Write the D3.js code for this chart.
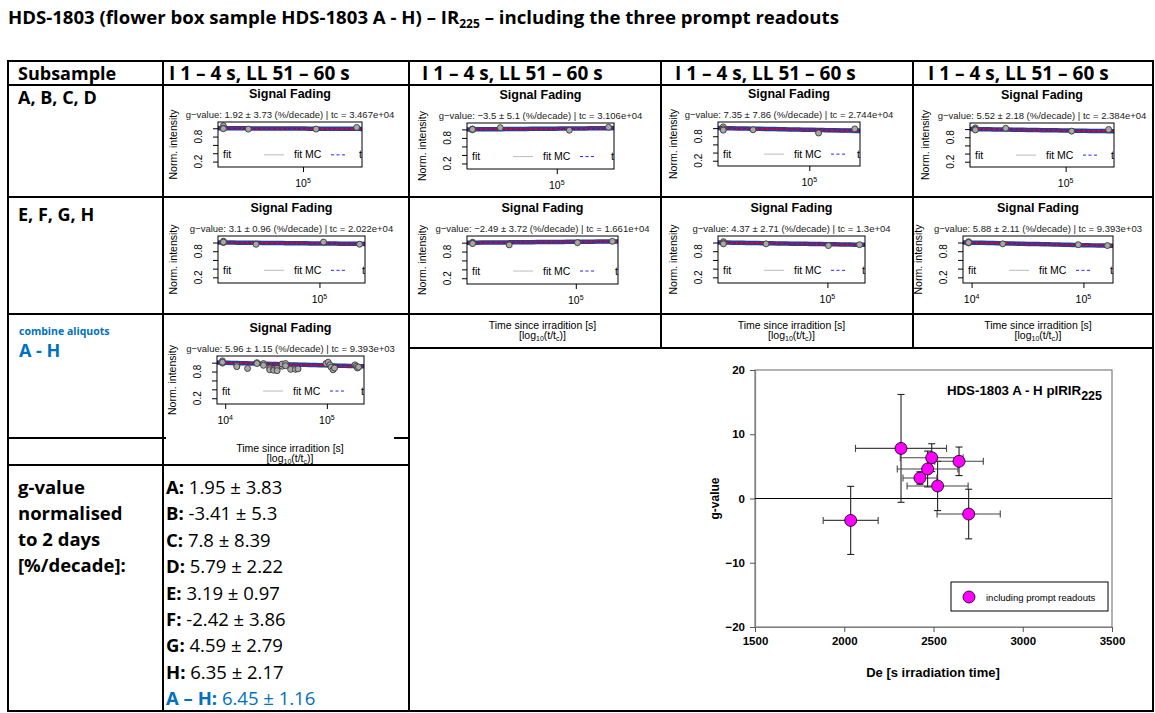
<!DOCTYPE html>
<meta charset="utf-8">
<style>
body { margin: 0; background: #fff; }
svg { display: block; }
.tbl { font-family: "Open Sans", Lato, sans-serif; }
.r { font-family: "Liberation Sans", Arial, sans-serif; }
</style>
<svg width="1155" height="713"></svg>
<script src="https://cdn.jsdelivr.net/npm/d3@7/dist/d3.min.js"></script>
<script>

// ---- data ----
var titleParts = ["HDS-1803 (flower box sample HDS-1803 A - H) \u2013 IR", "225", " \u2013 including the three prompt readouts"];
var colHeader = "I 1 \u2013 4 s, LL 51 \u2013 60 s";
var rowLabels = ["A, B, C, D", "E, F, G, H"];
var gLabelLines = ["g-value", "normalised", "to 2 days", "[%/decade]:"];

var aliquots = ["A", "B", "C", "D", "E", "F", "G", "H"];
var gNorm    = [1.95, -3.41, 7.8, 5.79, 3.19, -2.42, 4.59, 6.35];
var gNormErr = [3.83, 5.3, 8.39, 2.22, 0.97, 3.86, 2.79, 2.17];
var gAll = [6.45, 1.16];

// fitted values printed in the fading plots
var gFit    = [1.92, -3.5, 7.35, 5.52, 3.1, -2.49, 4.37, 5.88];
var gFitErr = [3.73, 5.1, 7.86, 2.18, 0.96, 3.72, 2.71, 2.11];
var tcLabel = ["3.467e+04", "3.106e+04", "2.744e+04", "2.384e+04", "2.022e+04", "1.661e+04", "1.3e+04", "9.393e+03"];

// time since irradiation [s] and normalised intensity (three prompt readouts first)
var fadeTimes = [
  [3.467e4, 3.467e4, 3.467e4, 4.83e4, 1.19e5, 2.04e5],
  [3.106e4, 3.106e4, 3.106e4, 4.57e4, 1.19e5, 2.05e5],
  [2.744e4, 2.744e4, 2.744e4, 4.29e4, 1.15e5, 1.98e5],
  [2.384e4, 2.384e4, 2.384e4, 3.86e4, 1.10e5, 1.98e5],
  [2.022e4, 2.022e4, 2.022e4, 3.48e4, 1.07e5, 1.95e5],
  [1.661e4, 1.661e4, 1.661e4, 3.14e4, 1.03e5, 1.89e5],
  [1.3e4, 1.3e4, 1.3e4, 3.0e4, 1.02e5, 1.88e5],
  [9.393e3, 9.393e3, 9.393e3, 1.9e4, 9.0e4, 1.64e5]
];
var fadeInt = [
  [1.06, 1.0, 0.99, 0.98, 0.98, 1.02],
  [1.01, 0.99, 1.0, 1.04, 0.98, 1.05],
  [1.03, 0.98, 0.95, 0.96, 0.88, 0.98],
  [1.03, 1.0, 0.98, 1.02, 0.95, 0.99],
  [1.03, 1.0, 1.01, 0.96, 1.01, 0.96],
  [1.01, 0.99, 0.98, 0.95, 1.0, 1.03],
  [1.02, 0.99, 0.97, 0.97, 0.93, 0.95],
  [1.02, 0.99, 1.0, 0.97, 0.95, 0.93]
];

// combined aliquots A - H
var allFit = [5.96, 1.15];
var allTc = "9.393e+03";
var allTimes = [9.39e3, 9.39e3, 9.39e3, 1.30e4, 1.30e4, 1.66e4, 2.05e4, 2.05e4, 2.38e4, 2.38e4,
  2.74e4, 2.74e4, 3.0e4, 3.0e4, 3.24e4, 3.24e4, 3.63e4, 3.63e4, 3.92e4, 3.92e4,
  4.4e4, 4.9e4, 5.2e4, 9.8e4, 1.03e5, 1.07e5, 1.1e5, 1.15e5, 1.19e5, 1.89e5, 1.95e5, 2.0e5, 2.05e5];
var allInt = [1.04, 0.99, 1.01, 0.94, 0.91, 0.87, 1.0, 0.98, 0.98, 0.94,
  0.88, 0.84, 0.86, 0.83, 0.87, 0.82, 0.92, 0.97, 0.98, 0.93,
  0.85, 0.85, 0.86, 0.98, 1.01, 0.95, 0.9, 0.84, 0.88, 0.95, 0.92, 0.88, 0.90];

// De [s irradiation time] for the scatter plot, order A - H
var de    = [2523, 2036, 2318, 2643, 2424, 2697, 2467, 2490];
var deErr = [171, 154, 255, 136, 95, 177, 170, 176];

var blue = "#0070c0";
var svg = d3.select("svg");

// ---- title ----
var title = svg.append("text").attr("class", "tbl").attr("x", 8).attr("y", 24)
    .style("font-weight", "bold").style("font-size", "18.6px");
title.append("tspan").text(titleParts[0]);
title.append("tspan").attr("dy", 4).style("font-size", "12px").text(titleParts[1]);
title.append("tspan").attr("dy", -4).text(titleParts[2]);

// ---- table texts ----
var headX = [169, 422, 675, 928];

svg.append("text").attr("class", "tbl").attr("x", 18).attr("y", 80)
    .style("font-weight", "bold").style("font-size", "18px").text("Subsample");
headX.forEach(function(x) {
  svg.append("text").attr("class", "tbl").attr("x", x).attr("y", 80)
      .style("font-weight", "bold").style("font-size", "19px").text(colHeader);
});
rowLabels.forEach(function(t, i) {
  svg.append("text").attr("class", "tbl").attr("x", 18).attr("y", [104, 221][i])
      .style("font-weight", "bold").style("font-size", "18px").text(t);
});
svg.append("text").attr("class", "tbl").attr("x", 19).attr("y", 335)
    .style("font-weight", "bold").style("font-size", "10.5px").style("fill", blue).text("combine aliquots");
svg.append("text").attr("class", "tbl").attr("x", 19).attr("y", 357)
    .style("font-weight", "bold").style("font-size", "18px").style("fill", blue).text("A - H");

gLabelLines.forEach(function(t, i) {
  svg.append("text").attr("class", "tbl").attr("x", 18).attr("y", 494 + i * 26)
      .style("font-weight", "bold").style("font-size", "18.5px").text(t);
});

var vals = aliquots.map(function(a, i) { return [a + ": ", gNorm[i] + " \u00b1 " + gNormErr[i], "#000"]; });
vals.push(["A \u2013 H: ", gAll[0] + " \u00b1 " + gAll[1], blue]);
vals.forEach(function(v, i) {
  var t = svg.append("text").attr("class", "tbl").attr("x", 166).attr("y", 494 + i * 26.4)
      .style("font-size", "18.5px").style("fill", v[2]);
  t.append("tspan").style("font-weight", "bold").text(v[0]);
  t.append("tspan").text(v[1]);
});

// ---- small fading plots ----
var fadeBoxes = [
  [218, 362, 122, 167], [467, 614, 123, 169], [718, 860, 122, 166], [970, 1114, 123, 167],
  [218, 365, 236, 283], [467, 618, 236, 284], [718, 865, 236, 283], [963, 1113, 236, 283]
];

function supText(sel, base, sup) {
  sel.append("tspan").text(base);
  sel.append("tspan").attr("dy", -4).style("font-size", "7px").text(sup);
}

function timeLabel(cx, yb) {
  svg.append("text").attr("class", "r").attr("x", cx).attr("y", yb).attr("text-anchor", "middle")
      .style("font-size", "10.5px").text("Time since irradition [s]");
  var t = svg.append("text").attr("class", "r").attr("x", cx).attr("y", yb + 10).attr("text-anchor", "middle")
      .style("font-size", "10.5px");
  t.append("tspan").text("[log");
  t.append("tspan").attr("dy", 2).style("font-size", "7px").text("10");
  t.append("tspan").attr("dy", -2).text("(t/t");
  t.append("tspan").attr("dy", 2).style("font-size", "7px").text("c");
  t.append("tspan").attr("dy", -2).text(")]");
}

var clipN = 0;
function fadePlot(b, times, ints, gv, ge, tcl, ticks) {
  var x0 = b[0], x1 = b[1], y0 = b[2], y1 = b[3], cx = (x0 + x1) / 2;
  var g = svg.append("g").attr("class", "r");
  var lo = Math.log10(d3.min(times)), hi = Math.log10(d3.max(times)), pad = (hi - lo) * 0.04;
  var x = d3.scaleLog().domain([Math.pow(10, lo - pad), Math.pow(10, hi + pad)]).range([x0, x1]);
  var y = d3.scaleLinear().domain([0.07, 1.15]).range([y1, y0]);
  var tc = +tcl;

  g.append("text").attr("x", cx).attr("y", y0 - 24).attr("text-anchor", "middle")
      .style("font-weight", "bold").style("font-size", "12.5px").text("Signal Fading");
  g.append("text").attr("x", cx).attr("y", y0 - 4).attr("text-anchor", "middle")
      .style("font-size", "9.5px").style("fill", "#222")
      .text("g\u2212value: " + String(gv).replace("-", "\u2212") + " \u00b1 " + ge + " (%/decade) | tc = " + tcl);

  var id = "c" + (clipN++);
  g.append("clipPath").attr("id", id).append("rect")
      .attr("x", x0).attr("y", y0).attr("width", x1 - x0).attr("height", y1 - y0);
  var inner = g.append("g").attr("clip-path", "url(#" + id + ")");

  var grid = d3.range(0, 31).map(function(i) { return Math.pow(10, lo - pad + (hi - lo + 2 * pad) * i / 30); });
  function fit(k) { return function(t) { return 1 - k / 100 * Math.log10(t / tc); }; }
  var band = d3.area().x(function(t) { return x(t); })
      .y0(function(t) { return y(Math.min(fit(gv - ge)(t), fit(gv + ge)(t))); })
      .y1(function(t) { return y(Math.max(fit(gv - ge)(t), fit(gv + ge)(t))); });
  var line = function(k) { return d3.line().x(function(t) { return x(t); }).y(function(t) { return y(fit(k)(t)); }); };

  inner.append("path").attr("d", band(grid)).attr("fill", "#8ea4cf").attr("opacity", 0.8);
  inner.append("path").attr("d", line(gv)(grid)).attr("fill", "none").attr("stroke", "#24418f").attr("stroke-width", 4.5);
  inner.append("path").attr("d", line(gv)(grid)).attr("fill", "none").attr("stroke", "#ff0000").attr("stroke-width", 1.5);
  inner.append("path").attr("d", line(gv * 0.9)(grid)).attr("fill", "none").attr("stroke", "#2020ff")
      .attr("stroke-width", 1).attr("stroke-dasharray", "3,2");

  inner.selectAll("circle").data(times).enter().append("circle")
      .attr("cx", function(t) { return x(t); })
      .attr("cy", function(t, i) { return y(ints[i]); })
      .attr("r", 3).attr("fill", "#a8a8a8").attr("stroke", "#3a3a3a").attr("stroke-width", 0.9);

  // legend (cut by the plot box, as in R)
  var ly = y0 + 0.73 * (y1 - y0);
  inner.append("text").attr("x", x0 + 5).attr("y", ly + 3.5).style("font-size", "10.5px").text("fit");
  inner.append("line").attr("x1", x0 + 46).attr("x2", x0 + 66).attr("y1", ly).attr("y2", ly)
      .attr("stroke", "#bbb").attr("stroke-width", 1);
  inner.append("text").attr("x", x0 + 76).attr("y", ly + 3.5).style("font-size", "10.5px").text("fit MC");
  inner.append("line").attr("x1", x0 + 113).attr("x2", x0 + 129).attr("y1", ly).attr("y2", ly)
      .attr("stroke", "#2020ff").attr("stroke-width", 1).attr("stroke-dasharray", "3,2.5");
  inner.append("text").attr("x", x1 - 3).attr("y", ly + 3.5).style("font-size", "10.5px").text("t");

  g.append("rect").attr("x", x0).attr("y", y0).attr("width", x1 - x0).attr("height", y1 - y0)
      .attr("fill", "none").attr("stroke", "#000").attr("stroke-width", 1);

  g.append("g").attr("transform", "translate(" + x0 + ",0)")
      .call(d3.axisLeft(y).tickValues([0.2, 0.4, 0.6, 0.8, 1.0]).tickSize(5).tickFormat("").tickSizeOuter(0))
      .call(function(a) { a.select(".domain").remove(); });
  [0.8, 0.2].forEach(function(v) {
    g.append("text").attr("transform", "translate(" + (x0 - 16) + "," + y(v) + ") rotate(-90)")
        .attr("text-anchor", "middle").style("font-size", "10px").text(String(v));
  });
  g.append("text").attr("transform", "translate(" + (x0 - 41) + "," + (y0 + y1) / 2 + ") rotate(-90)")
      .attr("text-anchor", "middle").style("font-size", "10.5px").text("Norm. intensity");

  g.append("g").attr("transform", "translate(0," + y1 + ")")
      .call(d3.axisBottom(x).tickValues(ticks).tickSize(5).tickFormat("").tickSizeOuter(0))
      .call(function(a) { a.select(".domain").remove(); });
  ticks.forEach(function(t) {
    var lab = g.append("text").attr("x", x(t)).attr("y", y1 + 20).attr("text-anchor", "middle")
        .style("font-size", "10.5px");
    supText(lab, "10", String(Math.round(Math.log10(t))));
  });

  // right-hand density panel, cut off by the cell
  var did = "d" + clipN;
  g.append("clipPath").attr("id", did).append("rect")
      .attr("x", x1 + 27).attr("y", y0 - 10).attr("width", 5).attr("height", 60);
  g.append("text").attr("clip-path", "url(#" + did + ")")
      .attr("transform", "translate(" + (x1 + 35) + "," + (y0 + 22) + ") rotate(-90)")
      .attr("text-anchor", "middle").style("font-size", "10.5px").text("Density");
}

aliquots.forEach(function(a, i) {
  var ticks = i === 7 ? [1e4, 1e5] : [1e5];
  fadePlot(fadeBoxes[i], fadeTimes[i], fadeInt[i], gFit[i], gFitErr[i], tcLabel[i], ticks);
});
fadePlot([217, 364, 356, 404], allTimes, allInt, allFit[0], allFit[1], allTc, [1e4, 1e5]);

// x-axis titles of the fading plots
[5, 6, 7].forEach(function(i) { timeLabel((fadeBoxes[i][0] + fadeBoxes[i][1]) / 2, 329); });
timeLabel(290, 452);

// ---- scatter plot g-value vs De ----
var sx = d3.scaleLinear().domain([1500, 3500]).range([755, 1112]);
var sy = d3.scaleLinear().domain([-20, 20]).range([627, 370]);
var sp = svg.append("g").attr("class", "r");

sp.append("rect").attr("x", sx(1500)).attr("y", sy(20)).attr("width", sx(3500) - sx(1500)).attr("height", sy(-20) - sy(20))
    .attr("fill", "none").attr("stroke", "#7f7f7f").attr("stroke-width", 1.2);

var ax = sp.append("g").attr("transform", "translate(0," + sy(-20) + ")")
    .call(d3.axisBottom(sx).tickValues([1500, 2000, 2500, 3000, 3500]).tickFormat(d3.format("d"))
      .tickSize(5).tickPadding(5).tickSizeOuter(0));
var ay = sp.append("g").attr("transform", "translate(" + sx(1500) + ",0)")
    .call(d3.axisLeft(sy).tickValues([-20, -10, 0, 10, 20]).tickFormat(d3.format("d"))
      .tickSize(5).tickPadding(5).tickSizeOuter(0));
[ax, ay].forEach(function(a) {
  a.select(".domain").attr("stroke", "#7f7f7f").attr("stroke-width", 1.2);
  a.selectAll(".tick line").attr("stroke", "#555");
  a.selectAll(".tick text").style("font-family", "'Liberation Sans', Arial, sans-serif")
      .style("font-weight", "bold").style("font-size", "11.5px").attr("fill", "#000");
});

sp.append("line").attr("x1", sx(1500)).attr("x2", sx(3500)).attr("y1", sy(0)).attr("y2", sy(0))
    .attr("stroke", "#000").attr("stroke-width", 1);

var pts = de.map(function(d, i) { return { x: d, xe: deErr[i], y: gNorm[i], ye: gNormErr[i] }; });
var eb = sp.append("g").attr("stroke", "#222").attr("stroke-width", 1.1);
pts.forEach(function(p) {
  eb.append("line").attr("x1", sx(p.x - p.xe)).attr("x2", sx(p.x + p.xe)).attr("y1", sy(p.y)).attr("y2", sy(p.y)).attr("stroke", "#444");
  eb.append("line").attr("x1", sx(p.x)).attr("x2", sx(p.x)).attr("y1", sy(p.y - p.ye)).attr("y2", sy(p.y + p.ye));
  [p.x - p.xe, p.x + p.xe].forEach(function(v) {
    eb.append("line").attr("x1", sx(v)).attr("x2", sx(v)).attr("y1", sy(p.y) - 3.5).attr("y2", sy(p.y) + 3.5).attr("stroke", "#444");
  });
  [p.y - p.ye, p.y + p.ye].forEach(function(v) {
    eb.append("line").attr("x1", sx(p.x) - 3.5).attr("x2", sx(p.x) + 3.5).attr("y1", sy(v)).attr("y2", sy(v));
  });
});
sp.selectAll("circle.pt").data(pts).enter().append("circle").attr("class", "pt")
    .attr("cx", function(p) { return sx(p.x); }).attr("cy", function(p) { return sy(p.y); })
    .attr("r", 6).attr("fill", "#ff00ff").attr("stroke", "#000").attr("stroke-width", 0.8);

var it = sp.append("text").attr("x", 1102).attr("y", 395).attr("text-anchor", "end")
    .style("font-weight", "bold").style("font-size", "13.3px");
it.append("tspan").text("HDS-1803 A - H pIRIR");
it.append("tspan").attr("dy", 5).style("font-size", "12.5px").text("225");

sp.append("text").attr("transform", "translate(719," + sy(0) + ") rotate(-90)").attr("text-anchor", "middle")
    .style("font-weight", "bold").style("font-size", "12px").text("g-value");
sp.append("text").attr("x", 933).attr("y", 677).attr("text-anchor", "middle")
    .style("font-weight", "bold").style("font-size", "13px").text("De [s irradiation time]");

var lg = sp.append("g");
lg.append("rect").attr("x", 951).attr("y", 582).attr("width", 157).attr("height", 29)
    .attr("fill", "#fff").attr("stroke", "#000").attr("stroke-width", 1);
lg.append("circle").attr("cx", 969).attr("cy", 597).attr("r", 6).attr("fill", "#ff00ff").attr("stroke", "#000").attr("stroke-width", 0.8);
lg.append("text").attr("x", 986).attr("y", 600.5).style("font-size", "9.5px").text("including prompt readouts");

// ---- table grid ----
var hLines = [[61, 8, 1153], [85, 8, 1153], [197, 8, 1153], [314, 8, 1153], [348, 409, 1153],
  [438, 8, 165], [438, 395, 409], [465, 8, 409], [711, 8, 1153]];
var vLines = [[8, 61, 711], [163, 61, 711], [409, 61, 711], [661, 61, 348], [913, 61, 348], [1153, 61, 711]];
var grid = svg.append("g").attr("stroke", "#000").attr("stroke-width", 2);
hLines.forEach(function(l) { grid.append("line").attr("x1", l[1] - 1).attr("x2", l[2] + 1).attr("y1", l[0]).attr("y2", l[0]); });
vLines.forEach(function(l) { grid.append("line").attr("x1", l[0]).attr("x2", l[0]).attr("y1", l[1]).attr("y2", l[2]); });

</script>
